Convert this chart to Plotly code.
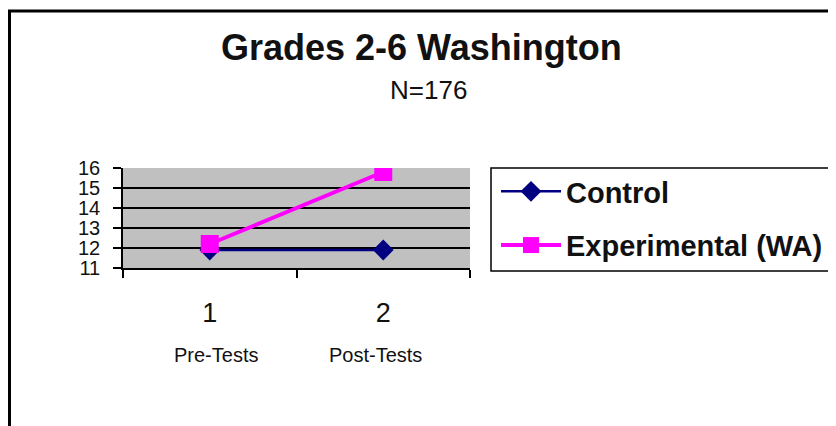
import plotly.graph_objects as go

categories = ["1", "2"]
phase_labels = ["Pre-Tests", "Post-Tests"]
control = [11.9, 11.9]
experimental = [12.2, 15.8]
y_ticks = [11, 12, 13, 14, 15, 16]

W, H = 836, 426
OFF = 8  # page body margin
L, T = 123 - OFF, 168 - OFF
pw, ph = 347, 100
R = W - L - pw
B = H - T - ph

def px_x(x):
    return (x - OFF - L) / pw

def px_y(y):
    return (H - B - (y - OFF)) / ph

fig = go.Figure()
fig.add_trace(go.Scatter(
    x=categories, y=control, name="Control", mode="lines+markers",
    line=dict(color="#000080", width=2.5),
    marker=dict(symbol="diamond", size=16, color="#000080"),
    legendgroup="a",
))
fig.add_trace(go.Scatter(
    x=categories, y=experimental, name="Experimental (WA)", mode="lines+markers",
    line=dict(color="#FF00FF", width=4),
    marker=dict(symbol="square", size=18, color="#FF00FF"),
    legendgroup="b",
))

FONT = "Arial, Liberation Sans"
annotations = [
    dict(text="<b>Grades 2-6 Washington</b>", xref="paper", yref="paper",
         x=px_x(421), y=px_y(47), xanchor="center", yanchor="middle", showarrow=False,
         font=dict(family=FONT, size=36, color="#111")),
    dict(text="N=176", xref="paper", yref="paper", x=px_x(428), y=px_y(90),
         xanchor="center", yanchor="middle", showarrow=False,
         font=dict(family=FONT, size=26, color="#111")),
]
label_shift = [6, -8]
for i, lab in enumerate(phase_labels):
    annotations.append(dict(text=lab, xref="x", yref="paper", x=i, y=px_y(355),
                            xanchor="center", yanchor="middle", showarrow=False,
                            xshift=label_shift[i],
                            font=dict(family=FONT, size=20, color="#111")))

shapes = [
    dict(type="line", xref="paper", yref="paper", x0=px_x(8), x1=px_x(900),
         y0=px_y(11), y1=px_y(11), line=dict(color="black", width=3)),
    dict(type="line", xref="paper", yref="paper", x0=px_x(9.5), x1=px_x(9.5),
         y0=px_y(11), y1=px_y(500), line=dict(color="black", width=3)),
    dict(type="rect", xref="paper", yref="paper", x0=px_x(491), x1=px_x(900),
         y0=px_y(168), y1=px_y(271), line=dict(color="black", width=1.5),
         fillcolor="white", layer="below"),
]

fig.update_layout(
    width=W, height=H,
    margin=dict(l=L, r=R, t=T, b=B, autoexpand=False),
    paper_bgcolor="white",
    plot_bgcolor="#C0C0C0",
    xaxis=dict(type="category", tickson="boundaries", showgrid=False,
               showline=True, linecolor="black", linewidth=1.5,
               ticks="outside", ticklen=8, tickcolor="black", tickwidth=1.5,
               tickfont=dict(family=FONT, size=27, color="#111"),
               ticklabelstandoff=20, range=[-0.5, 1.5]),
    yaxis=dict(range=[11, 16], tickvals=y_ticks, showgrid=True, gridcolor="black",
               gridwidth=1.5, showline=True, linecolor="black", linewidth=1.5,
               ticks="outside", ticklen=8, tickcolor="black", tickwidth=1.5,
               tickfont=dict(family=FONT, size=20, color="#111"),
               ticklabelstandoff=9, zeroline=False),
    legend=dict(xref="container", yref="container",
                x=(496 - OFF) / W, y=1 - (166 - OFF) / H, xanchor="left", yanchor="top",
                bgcolor="rgba(0,0,0,0)", borderwidth=0,
                font=dict(family=FONT, size=29, color="#111", weight="bold"),
                tracegroupgap=13, traceorder="grouped", itemwidth=60),
    annotations=annotations,
    shapes=shapes,
)

fig.write_html("out.html")
